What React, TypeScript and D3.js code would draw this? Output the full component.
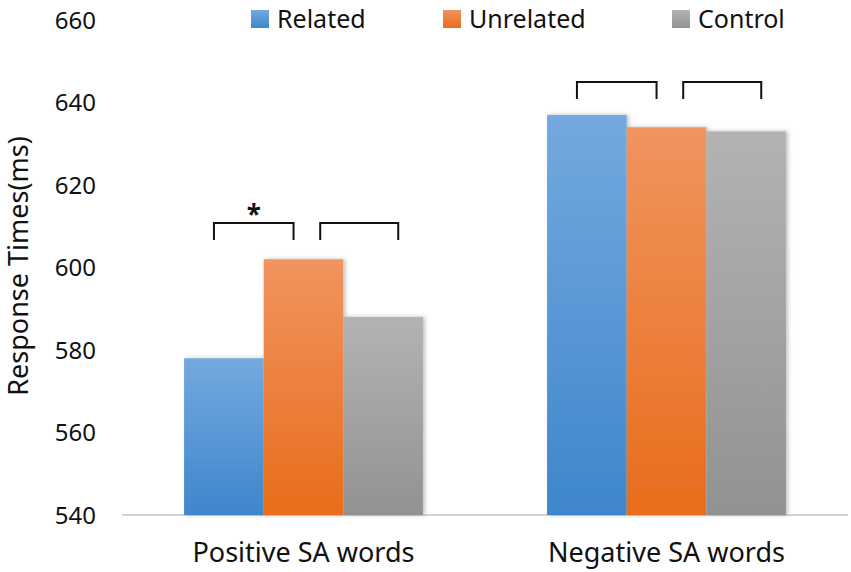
import React from "react";
import * as d3 from "d3";

const categories = ["Positive SA words", "Negative SA words"];
const seriesNames = ["Related", "Unrelated", "Control"];
const related = [578, 637];
const unrelated = [602, 634];
const control = [588, 633];
const yTicks = [540, 560, 580, 600, 620, 640, 660];
// brackets: [category index, from series, to series, label]
const brackets: [number, number, number, string][] = [
  [0, 0, 1, "*"],
  [0, 1, 2, ""],
  [1, 0, 1, ""],
  [1, 1, 2, ""],
];
// height (in ms) of the bracket tops per category
const bracketLevels = [610.8, 645];

const colors = [
  { top: "#74a9df", bottom: "#3e86cb" },
  { top: "#f1945f", bottom: "#e86d1b" },
  { top: "#b3b3b3", bottom: "#929292" },
];

const width = 851;
const height = 572;
const margin = { top: 20, right: 3, bottom: 57, left: 122 };

const App: React.FC = () => {
  const values = [related, unrelated, control];
  const font = "'Noto Sans', 'Open Sans', sans-serif";

  const x0 = d3
    .scaleBand()
    .domain(categories)
    .range([margin.left, width - margin.right])
    .paddingInner(0.342)
    .paddingOuter(0.171);

  const x1 = d3
    .scaleBand()
    .domain(seriesNames)
    .range([0, x0.bandwidth()])
    .padding(0);

  const y = d3
    .scaleLinear()
    .domain([540, 660])
    .range([height - margin.bottom, margin.top]);

  const base = y(540);
  const bw = x1.bandwidth();

  return (
    <svg
      width={width}
      height={height}
      style={{ position: "absolute", left: 0, top: 0, background: "#fff" }}
      fontFamily={font}
    >
      <defs>
        {colors.map((c, i) => (
          <linearGradient key={i} id={`grad${i}`} x1="0" y1="0" x2="0" y2="1">
            <stop offset="0%" stopColor={c.top} />
            <stop offset="100%" stopColor={c.bottom} />
          </linearGradient>
        ))}
        <filter id="shadow" x="-10%" y="-10%" width="130%" height="130%">
          <feDropShadow dx="2" dy="0" stdDeviation="2" floodColor="#000" floodOpacity="0.25" />
        </filter>
      </defs>

      {/* axis line */}
      <line
        x1={margin.left}
        x2={width - margin.right}
        y1={base}
        y2={base}
        stroke="#d4d4d4"
        strokeWidth={2}
      />

      {/* y tick labels */}
      {yTicks.map((t) => (
        <text
          key={t}
          x={96}
          y={y(t)}
          dy="0.36em"
          textAnchor="end"
          fontSize={24}
          fill="#111"
        >
          {t}
        </text>
      ))}

      {/* y axis title */}
      <text
        transform={`translate(28,266) rotate(-90)`}
        textAnchor="middle"
        fontSize={27}
        fill="#111"
      >
        Response Times(ms)
      </text>

      {/* bars */}
      {categories.map((cat, ci) => (
        <g key={cat} transform={`translate(${x0(cat)},0)`} filter="url(#shadow)">
          {seriesNames.map((s, si) => (
            <rect
              key={s}
              x={x1(s)}
              y={y(values[si][ci])}
              width={bw}
              height={base - y(values[si][ci])}
              fill={`url(#grad${si})`}
            />
          ))}
        </g>
      ))}

      {/* category labels */}
      {categories.map((cat) => (
        <text
          key={cat}
          x={(x0(cat) as number) + x0.bandwidth() / 2}
          y={562}
          textAnchor="middle"
          fontSize={27}
          fill="#111"
        >
          {cat}
        </text>
      ))}

      {/* significance brackets */}
      {brackets.map(([ci, a, b, label], i) => {
        const cx = x0(categories[ci]) as number;
        const first = a === 0;
        const xa = cx + (x1(seriesNames[a]) as number) + bw * (first ? 0.375 : 0.71);
        const xb = cx + (x1(seriesNames[b]) as number) + bw * (first ? 0.375 : 0.69);
        const yTop = y(bracketLevels[ci]);
        const yBot = yTop + 17;
        return (
          <g key={i}>
            <path
              d={`M${xa},${yBot}V${yTop}H${xb}V${yBot}`}
              fill="none"
              stroke="#111"
              strokeWidth={2}
            />
            {label && (
              <text
                x={(xa + xb) / 2}
                y={yTop + 1}
                textAnchor="middle"
                fontSize={26}
                fontWeight="bold"
                fill="#111"
              >
                {label}
              </text>
            )}
          </g>
        );
      })}

      {/* legend */}
      {seriesNames.map((s, i) => {
        const lx = [251, 443, 672][i];
        return (
          <g key={s} transform={`translate(${lx},10)`}>
            <rect width={18} height={18} fill={`url(#grad${i})`} />
            <text x={26} y={9} dy="0.36em" fontSize={25} fill="#111">
              {s}
            </text>
          </g>
        );
      })}
    </svg>
  );
};

export default App;
